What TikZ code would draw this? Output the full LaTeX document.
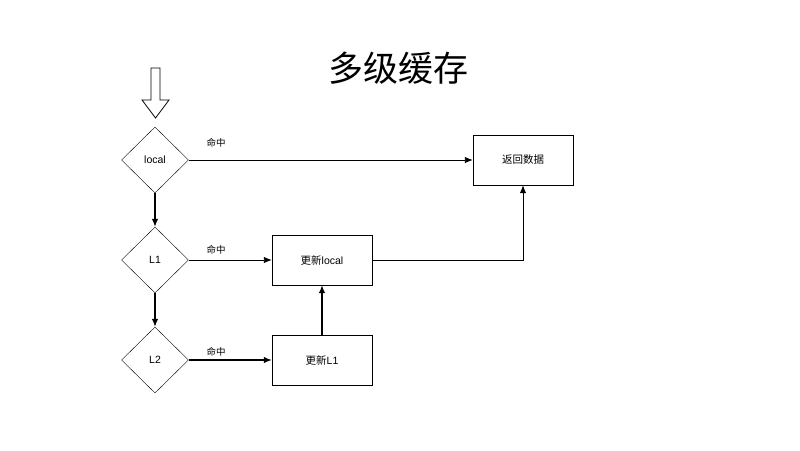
\documentclass[tikz,border=0pt]{standalone}
\usepackage{fontspec}
\setmainfont{Liberation Sans}
\newfontfamily\cjk{Noto Sans CJK SC}
\usetikzlibrary{shapes.geometric,arrows.meta}

\tikzset{
  check/.style = {draw, diamond, minimum width = 67pt, minimum height = 66pt,
                  inner sep = 0pt, font = \fontsize{10.5}{12}\selectfont},
  block/.style = {draw, rectangle, minimum width = 100pt, minimum height = 50pt,
                  inner sep = 0pt, font = \fontsize{10.5}{12}\selectfont},
  flow/.style  = {-{Latex[length=8pt,width=6.5pt]}, line width = 0.9pt},
  hit/.style   = {font = \cjk\fontsize{9.5}{11}\selectfont}
}

\begin{document}
\begin{tikzpicture}[x = 1pt, y = -1pt]
	      \useasboundingbox (0,0) rectangle (800,450);

	      \node (title) at (398,68) {\cjk\fontsize{35}{40}\selectfont 多级缓存};

	      % entry arrow
	      \draw [line width = 0.8pt] (151,68) -- (160,68) -- (160,100) -- (169,100)
	            -- (155.5,118) -- (142,100) -- (151,100) -- cycle;

	      \node [check] (local) at (155,160) {local};
	      \node [check] (l1)    at (155,260) {L1};
	      \node [check] (l2)    at (155,360) {L2};

	      \node [block] (ret)   at (523,160) {\cjk 返回数据};
	      \node [block] (uplocal) at (322,260) {{\cjk 更新}local};
	      \node [block] (upl1)  at (322,360) {{\cjk 更新}L1};

	      \draw [flow, line width = 1.2pt] (local) -- (l1);
	      \draw [flow, line width = 1.2pt] (l1) -- (l2);

	      \draw [flow] (local) -- (ret);
	      \draw [flow] (l1) -- (uplocal);
	      \draw [flow, line width = 1.2pt] (l2) -- (upl1);
	      \draw [flow, line width = 1.2pt] (upl1) -- (uplocal);
	      \draw [flow] (uplocal.east) -| (ret.south);

	      \node [hit] at (216,143) {命中};
	      \node [hit] at (216,250) {命中};
	      \node [hit] at (216,352) {命中};

      \end{tikzpicture}
\end{document}
